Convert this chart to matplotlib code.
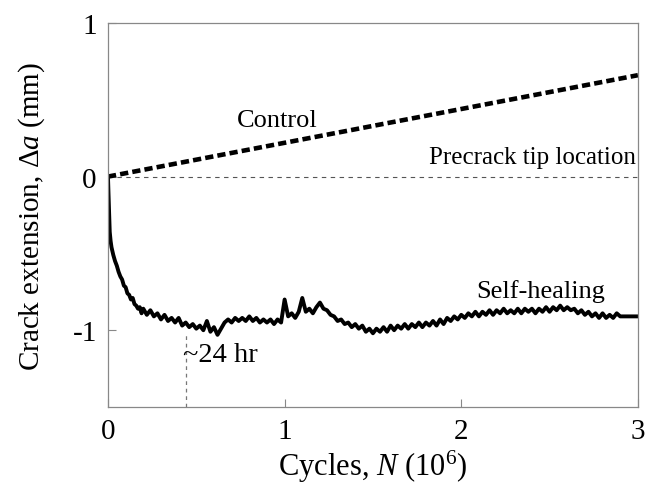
import numpy as np
import matplotlib.pyplot as plt

plt.rcParams['font.family'] = ['Liberation Serif', 'DejaVu Serif']
plt.rcParams['mathtext.fontset'] = 'custom'
plt.rcParams['mathtext.rm'] = 'Liberation Serif'
plt.rcParams['mathtext.it'] = 'Liberation Serif:italic'

# 对照组：线性增长
x_control = [0.0, 3.0]
y_control = [0.0, 0.66]

# 预裂纹尖端位置
x_precrack = [0.0, 3.0]
y_precrack = [0.0, 0.0]

# 自修复样品（从图中读取，含噪声）
x_heal = [0.0, 0.003, 0.006, 0.01, 0.015, 0.02, 0.03, 0.04, 0.05, 0.06, 0.07, 0.08,
          0.09, 0.10, 0.11, 0.12, 0.13, 0.14, 0.15, 0.16, 0.17, 0.18, 0.19, 0.20,
          0.22, 0.24, 0.26, 0.28, 0.30, 0.32, 0.34, 0.36, 0.38, 0.40, 0.42, 0.44,
          0.46, 0.48, 0.50, 0.52, 0.54, 0.56, 0.58, 0.60, 0.62, 0.64, 0.66, 0.68,
          0.70, 0.72, 0.74, 0.76, 0.78, 0.80, 0.82, 0.84, 0.86, 0.88, 0.90, 0.92,
          0.94, 0.96, 0.98, 1.00, 1.02, 1.04, 1.06, 1.08, 1.10, 1.12, 1.14, 1.16,
          1.18, 1.20, 1.22, 1.24, 1.26, 1.28, 1.30, 1.32, 1.34, 1.36, 1.38, 1.40,
          1.42, 1.44, 1.46, 1.48, 1.50, 1.52, 1.54, 1.56, 1.58, 1.60, 1.62, 1.64,
          1.66, 1.68, 1.70, 1.72, 1.74, 1.76, 1.78, 1.80, 1.82, 1.84, 1.86, 1.88,
          1.90, 1.92, 1.94, 1.96, 1.98, 2.00, 2.02, 2.04, 2.06, 2.08, 2.10, 2.12,
          2.14, 2.16, 2.18, 2.20, 2.22, 2.24, 2.26, 2.28, 2.30, 2.32, 2.34, 2.36,
          2.38, 2.40, 2.42, 2.44, 2.46, 2.48, 2.50, 2.52, 2.54, 2.56, 2.58, 2.60,
          2.62, 2.64, 2.66, 2.68, 2.70, 2.72, 2.74, 2.76, 2.78, 2.80, 2.82, 2.84,
          2.86, 2.88, 2.90, 2.92, 2.94, 2.96, 2.98, 3.00]
y_heal = [0.0, -0.10, -0.22, -0.36, -0.42, -0.46, -0.51, -0.55, -0.58, -0.62, -0.65, -0.67,
          -0.71, -0.72, -0.76, -0.77, -0.80, -0.79, -0.83, -0.84, -0.86, -0.85, -0.89, -0.86,
          -0.90, -0.87, -0.91, -0.89, -0.93, -0.90, -0.94, -0.92, -0.95, -0.92, -0.97, -0.95,
          -0.98, -0.96, -0.99, -0.97, -1.00, -0.94, -1.01, -0.98, -1.03, -0.99, -0.95, -0.93,
          -0.95, -0.92, -0.94, -0.92, -0.94, -0.91, -0.94, -0.92, -0.95, -0.93, -0.95, -0.93,
          -0.96, -0.93, -0.95, -0.80, -0.91, -0.89, -0.92, -0.88, -0.79, -0.88, -0.86, -0.89,
          -0.85, -0.82, -0.86, -0.87, -0.90, -0.91, -0.94, -0.93, -0.96, -0.95, -0.98, -0.96,
          -0.99, -0.97, -1.01, -0.99, -1.02, -0.99, -1.01, -0.98, -1.01, -0.97, -1.00, -0.97,
          -0.99, -0.96, -0.99, -0.96, -0.98, -0.95, -0.98, -0.95, -0.97, -0.94, -0.97, -0.93,
          -0.96, -0.92, -0.94, -0.91, -0.93, -0.90, -0.92, -0.89, -0.91, -0.88, -0.91, -0.88,
          -0.90, -0.87, -0.90, -0.87, -0.89, -0.86, -0.89, -0.87, -0.89, -0.86, -0.89, -0.86,
          -0.88, -0.86, -0.89, -0.86, -0.88, -0.85, -0.88, -0.85, -0.87, -0.84, -0.87, -0.85,
          -0.87, -0.86, -0.89, -0.87, -0.90, -0.88, -0.91, -0.89, -0.92, -0.89, -0.92, -0.90,
          -0.92, -0.89, -0.91, -0.91, -0.91, -0.91, -0.91, -0.91]

# 约24小时标记
x_24hr = 0.44
y_24hr_top = -1.03

x_ticks = [0, 1, 2, 3]
y_ticks = [-1, 0, 1]

fig = plt.figure(figsize=(6.45, 4.89), dpi=100)
ax = fig.add_axes([0.1674, 0.1656, 0.8216, 0.7854])

ax.plot(x_precrack, y_precrack, color='#555555', lw=0.8, linestyle=(0, (4, 4)))
ax.plot([x_24hr, x_24hr], [-1.5, y_24hr_top], color='#777777', lw=0.9, linestyle=(0, (3, 3)))
ax.plot(x_control, y_control, color='black', lw=3.3, linestyle=(0, (1.8, 0.9)),
        dash_capstyle='butt', solid_capstyle='butt')
ax.plot(x_heal, y_heal, color='black', lw=2.8)

ax.text(0.96, 0.37, 'Control', fontsize=19, ha='center', va='center')
ax.text(2.99, 0.13, 'Precrack tip location', fontsize=18, ha='right', va='center')
ax.text(2.45, -0.74, 'Self-healing', fontsize=19, ha='center', va='center')
ax.text(0.425, -1.16, '~24 hr', fontsize=20.5, ha='left', va='center')

ax.set_xlim(0, 3)
ax.set_ylim(-1.5, 1)
ax.set_xticks(x_ticks)
ax.set_yticks(y_ticks)
ax.set_xticklabels([str(v) for v in x_ticks])
ax.set_yticklabels([str(v) for v in y_ticks])
ax.tick_params(direction='in', length=6, width=0.8, color='#888888', labelsize=21, pad=8)
for s in ax.spines.values():
    s.set_color('#888888')
    s.set_linewidth(0.9)

ax.set_xlabel(r'Cycles, $\mathit{N}$ (10$^6$)', fontsize=22, labelpad=3)
ax.set_ylabel(r'Crack extension, $\Delta\mathit{a}$ (mm)', fontsize=21, labelpad=18)

fig.savefig('out.png', dpi=100)
